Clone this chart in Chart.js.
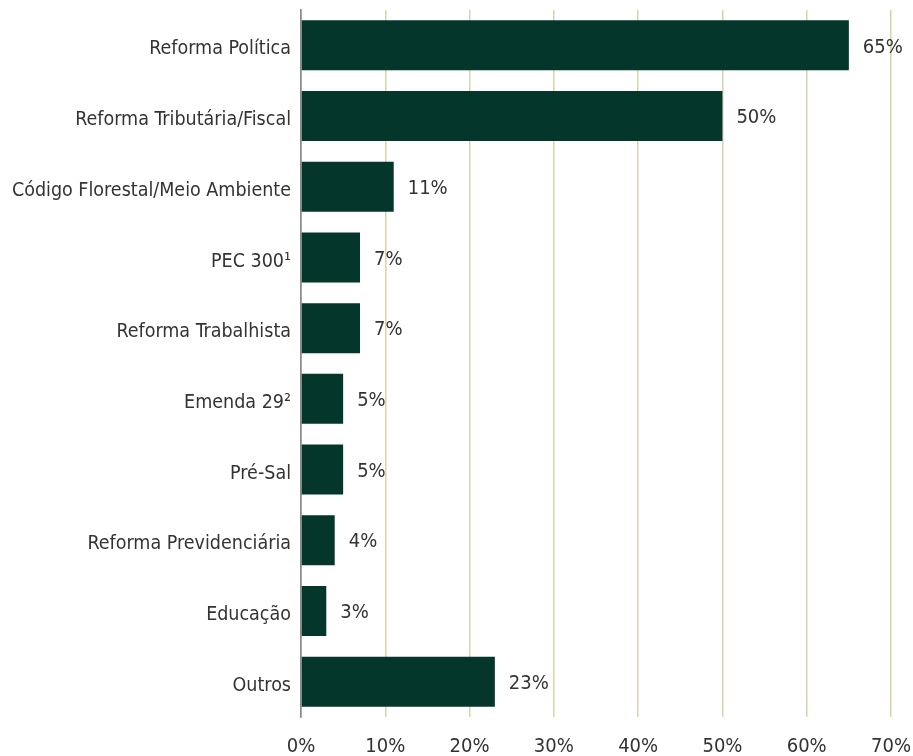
<!DOCTYPE html>
<html>
<head>
<meta charset="utf-8">
<script src="https://cdn.jsdelivr.net/npm/chart.js@4"></script>
<style>
    html, body { margin: 0; padding: 0; background: #ffffff; }
    #wrap { width: 913px; height: 756px; position: relative; }
</style>
</head>
<body>
<div id="wrap"><canvas id="reformasChart"></canvas></div>
<script>
const categories = [
    "Reforma Política",
    "Reforma Tributária/Fiscal",
    "Código Florestal/Meio Ambiente",
    "PEC 300¹",
    "Reforma Trabalhista",
    "Emenda 29²",
    "Pré-Sal",
    "Reforma Previdenciária",
    "Educação",
    "Outros"
];
const percentages = [65, 50, 11, 7, 7, 5, 5, 4, 3, 23];
const tickValues = [0, 10, 20, 30, 40, 50, 60, 70];

const fontFamily = "'Liberation Sans Narrow', 'DejaVu Sans Condensed', 'Roboto', sans-serif";
const textColor = "#333333";

const valueLabels = {
    id: "valueLabels",
    afterDatasetsDraw(chart) {
        const { ctx } = chart;
        const meta = chart.getDatasetMeta(0);
        ctx.save();
        ctx.font = "20px " + fontFamily;
        ctx.fillStyle = textColor;
        ctx.textAlign = "left";
        ctx.textBaseline = "middle";
        meta.data.forEach((bar, i) => {
            ctx.fillText(percentages[i] + "%", bar.x + 14, bar.y + 2);
        });
        ctx.restore();
    }
};

new Chart(document.getElementById("reformasChart"), {
    type: "bar",
    data: {
        labels: categories,
        datasets: [{
            data: percentages,
            backgroundColor: "#04362b",
            borderWidth: 0,
            categoryPercentage: 0.707,
            barPercentage: 1
        }]
    },
    options: {
        indexAxis: "y",
        responsive: true,
        maintainAspectRatio: false,
        animation: false,
        layout: { padding: { top: 10, right: 22, left: 0, bottom: 0 } },
        plugins: {
            legend: { display: false },
            tooltip: { enabled: false }
        },
        scales: {
            x: {
                min: 0,
                max: 70,
                afterBuildTicks: (axis) => {
                    axis.ticks = tickValues.map(v => ({ value: v }));
                },
                afterFit: (axis) => {
                    axis.height = 39;
                    axis.paddingLeft = 0;
                    axis.paddingRight = 0;
                },
                border: { display: false },
                grid: {
                    color: (c) => (c.tick && c.tick.value === 0 ? "#8a8a8a" : "#d8d4aa"),
                    lineWidth: 1.5,
                    drawTicks: false
                },
                ticks: {
                    padding: 18,
                    color: textColor,
                    font: { family: fontFamily, size: 20 },
                    callback: (v) => v + "%"
                }
            },
            y: {
                afterFit: (axis) => {
                    axis.width = 301;
                    axis.paddingTop = 0;
                    axis.paddingBottom = 0;
                },
                border: { display: true, color: "#8a8a8a", width: 1.5 },
                grid: { display: false, drawTicks: false },
                ticks: {
                    padding: 10,
                    labelOffset: 4,
                    color: textColor,
                    font: { family: fontFamily, size: 19.5 }
                }
            }
        }
    },
    plugins: [valueLabels]
});
</script>
</body>
</html>
